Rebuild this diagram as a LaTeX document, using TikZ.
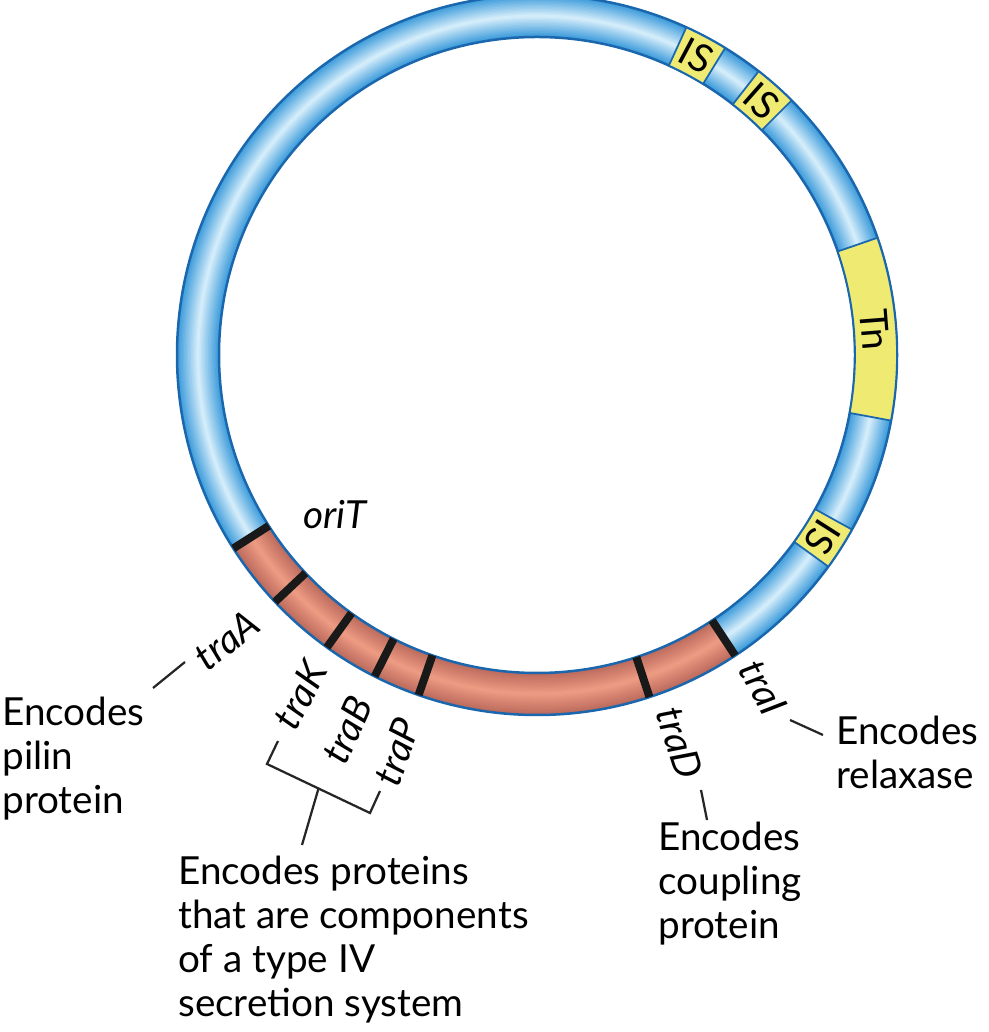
\documentclass[tikz,border=0pt]{standalone}
\usepackage{fontspec}
\setmainfont{Lato}
\usetikzlibrary{calc}
\tikzset{
  lbl/.style={font=\fontsize{22}{25}\selectfont, align=left, inner sep=0pt},
  gene/.style={font=\fontsize{22}{25}\selectfont\itshape, inner sep=0pt},
  lead/.style={line width=0.45mm, black!85},
  genemark/.style={line width=1.6mm, black!90},
  box/.style={fill=boxyellow, draw=ringline, line width=0.35mm}
}
\definecolor{blueedge}{HTML}{3C9BDB}
\definecolor{bluemid}{HTML}{D2ECFA}
\definecolor{rededge}{HTML}{BC6A5C}
\definecolor{redmid}{HTML}{EC9A82}
\definecolor{boxyellow}{HTML}{EEEA72}
\definecolor{ringline}{HTML}{1A67AE}
% shaded ring piece: start, end, edge colour, middle colour
\newcommand{\ringpart}[4]{%
  \foreach \i in {0,...,14}{
    \pgfmathsetmacro{\w}{8.4*(1-\i/15)}
    \pgfmathsetmacro{\p}{100*\i/14}
    \draw[line width=\w mm, color=#4!\p!#3] (#1:339) arc[start angle=#1, end angle=#2, radius=339];
  }}
% yellow sector with label
\newcommand{\ringbox}[4]{%
  \filldraw[box] (#1:318) arc[start angle=#1, end angle=#2, radius=318]
    -- (#2:360) arc[start angle=#2, end angle=#1, radius=360] -- cycle;
  \node[font=\fontsize{22}{25}\selectfont, rotate=#4] at ({(#1+#2)/2}:339) {#3};}
\begin{document}
\begin{tikzpicture}[x=0.2mm, y=0.2mm]
\useasboundingbox (0,0) rectangle (989,1032);

%the plasmid ring
\begin{scope}[shift={(537,677)}]
  \ringpart{-56.6}{212.5}{blueedge}{bluemid}
  \ringpart{212.5}{303.4}{rededge}{redmid}
  \draw[ringline, line width=0.5mm] (0,0) circle (360);
  \draw[ringline, line width=0.5mm] (0,0) circle (318);

  %insertion sequences and transposon
  \ringbox{58.5}{65.5}{IS}{-28}
  \ringbox{45}{52}{IS}{-41.5}
  \ringbox{-10.5}{19}{Tn}{-85.5}
  \ringbox{-36}{-29}{IS}{-122.5}

  %gene boundaries
  \foreach \a in {212.5, 223.3, 234.3, 243.2, 250.8, 288.2, 303.4}
    \draw[genemark] (\a:318) -- (\a:360);
\end{scope}

%gene names
\node[gene] (oriT) at (335,517) {oriT};
\node[gene, rotate=38] (traA) at (227,392) {traA};
\node[gene, rotate=62] (traK) at (300,337) {traK};
\node[gene, rotate=66] (traB) at (347,302) {traB};
\node[gene, rotate=70] (traP) at (397,280) {traP};
\node[gene, rotate=-62] (traI) at (763,344) {traI};
\node[gene, rotate=-72] (traD) at (680,289) {traD};

%descriptions
\node[lbl, anchor=north west] (pilin) at (2,335) {Encodes\\pilin\\protein};
\node[lbl, anchor=north west] (relax) at (836,316) {Encodes\\relaxase};
\node[lbl, anchor=north west] (coupl) at (658,210) {Encodes\\coupling\\protein};
\node[lbl, anchor=north west] (secr) at (178,176) {Encodes proteins\\that are components\\of a type IV\\secretion system};

%leader lines
\coordinate (bk1) at (278,291);
\coordinate (bk2) at (267,268);
\coordinate (bk3) at (370,219);
\coordinate (bk4) at (380,241);
\coordinate (stem) at ($(bk2)!0.5!(bk3)$);
\draw[lead] (153,344) -- (185,370);
\draw[lead] (bk1) -- (bk2) -- (bk3) -- (bk4);
\draw[lead] (stem) -- (302,187);
\draw[lead] (790,312) -- (823,297);
\draw[lead] (701,242) -- (707,212);
\end{tikzpicture}
\end{document}
